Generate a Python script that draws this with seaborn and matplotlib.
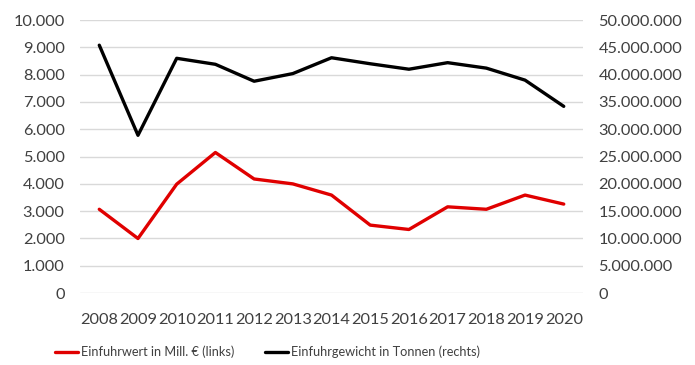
import numpy as np
import pandas as pd
import seaborn as sns
import matplotlib.pyplot as plt
from matplotlib.ticker import FuncFormatter, MultipleLocator
from matplotlib.lines import Line2D

# Daten
years = [2008, 2009, 2010, 2011, 2012, 2013, 2014, 2015, 2016, 2017, 2018, 2019, 2020]
wert_mio_eur = [3070, 2000, 3990, 5150, 4180, 4000, 3590, 2490, 2330, 3160, 3070, 3590, 3260]
gewicht_t = [45400000, 28900000, 43000000, 41900000, 38800000, 40200000, 43100000,
             42000000, 41000000, 42200000, 41200000, 39000000, 34200000]
label_wert = "Einfuhrwert in Mill. € (links)"
label_gewicht = "Einfuhrgewicht in Tonnen (rechts)"

df = pd.DataFrame({"Jahr": years, "Wert": wert_mio_eur, "Gewicht": gewicht_t})

sns.set_style("white")
plt.rcParams["font.family"] = ["Lato", "DejaVu Sans"]

red = "#e00000"
black = "#000000"
text_col = "#404040"

fig = plt.figure(figsize=(6.95, 3.65), dpi=100)
ax = fig.add_axes([0.115, 0.197, 0.724, 0.748])
ax2 = ax.twinx()

sns.lineplot(data=df, x="Jahr", y="Wert", ax=ax, color=red, linewidth=2.4, zorder=3)
sns.lineplot(data=df, x="Jahr", y="Gewicht", ax=ax2, color=black, linewidth=2.4, zorder=3)

def de_fmt(v, pos):
    return f"{int(round(v)):,}".replace(",", ".")

ax.set_ylim(0, 10000)
ax.yaxis.set_major_locator(MultipleLocator(1000))
ax.yaxis.set_major_formatter(FuncFormatter(de_fmt))
ax2.set_ylim(0, 50000000)
ax2.yaxis.set_major_locator(MultipleLocator(5000000))
ax2.yaxis.set_major_formatter(FuncFormatter(de_fmt))

ax.set_xlim(years[0] - 0.5, years[-1] + 0.5)
ax.set_xticks(years)
ax.set_xticklabels([str(y) for y in years])

ax.grid(axis="y", color="#d9d9d9", linewidth=1)
ax.set_axisbelow(True)
for a in (ax, ax2):
    for s in a.spines.values():
        s.set_visible(False)
    a.set_xlabel("")
    a.set_ylabel("")
    a.tick_params(length=0, labelsize=11.8, colors=text_col)
ax.tick_params(axis="y", pad=11)
ax.tick_params(axis="x", pad=14)
ax2.tick_params(axis="y", pad=11)

handles = [Line2D([], [], color=red, linewidth=2.4),
           Line2D([], [], color=black, linewidth=2.4)]
fig.legend(handles, [label_wert, label_gewicht], loc="center", bbox_to_anchor=(0.385, 0.035),
           ncol=2, frameon=False, fontsize=9.2, handlelength=1.8, handletextpad=0.2,
           columnspacing=2.4, labelcolor=text_col)

fig.savefig("out.png", dpi=100)
